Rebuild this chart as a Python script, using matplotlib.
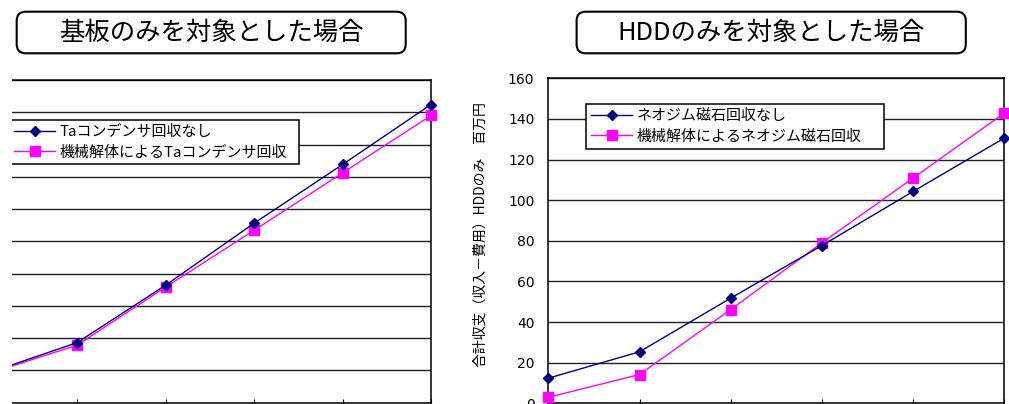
import numpy as np
import matplotlib
matplotlib.use("Agg")
import matplotlib.pyplot as plt
from matplotlib.patches import FancyBboxPatch, Rectangle

plt.rcParams['font.family'] = ['Noto Sans CJK JP', 'DejaVu Sans']

# ---- data ---------------------------------------------------------------
board_title = "基板のみを対象とした場合"
board_labels = ["Taコンデンサ回収なし", "機械解体によるTaコンデンサ回収"]
board_no_recovery = [46, 93, 182, 278, 369, 462]
board_mech_recovery = [45, 89, 179, 267, 356, 445]

hdd_title = "HDDのみを対象とした場合"
hdd_labels = ["ネオジム磁石回収なし", "機械解体によるネオジム磁石回収"]
hdd_no_recovery = [12.4, 25.4, 51.8, 77.7, 104.3, 130.6]
hdd_mech_recovery = [3.0, 14.2, 46.2, 79.0, 110.9, 142.9]
hdd_yticks = [0, 20, 40, 60, 80, 100, 120, 140, 160]
hdd_ylabel = "合計収支（収入－費用）HDDのみ　百万円"

NAVY = "#000080"
MAGENTA = "#FF00FF"

W, H = 1009, 404
fig = plt.figure(figsize=(W / 100, H / 100), dpi=100)


def px_axes(x0, y0, x1, y1):
    """Axes rectangle given in pixel coordinates measured from top-left."""
    return fig.add_axes([x0 / W, 1 - y1 / H, (x1 - x0) / W, (y1 - y0) / H])


def style_axes(ax, ylim, step):
    ax.set_xlim(0, len(board_no_recovery) - 1)
    ax.set_ylim(*ylim)
    ax.set_yticks(np.arange(ylim[0], ylim[1] + step / 2, step))
    ax.set_xticks(np.arange(len(board_no_recovery)))
    ax.set_xticklabels([])
    ax.grid(axis='y', color='#222222', linewidth=1.0)
    ax.set_axisbelow(True)
    for s in ax.spines.values():
        s.set_color('black')
        s.set_linewidth(1.1)
    ax.tick_params(axis='x', direction='inout', length=6, width=0.8, color='black')
    ax.tick_params(axis='y', length=0)


def draw_series(ax, a, b, labels):
    x = np.arange(len(a))
    ax.plot(x, a, color=NAVY, lw=1.0, marker='D', ms=5.0, mfc=NAVY, mec=NAVY,
            label=labels[0], clip_on=False, zorder=4)
    ax.plot(x, b, color=MAGENTA, lw=1.0, marker='s', ms=7.0, mfc=MAGENTA, mec=MAGENTA,
            label=labels[1], clip_on=False, zorder=3)


def add_legend(ax, x0, x1, y_top):
    leg = ax.legend(loc='upper left',
                    bbox_to_anchor=(x0 / W, 1 - y_top / H - 0.01, (x1 - x0) / W, 0.01),
                    bbox_transform=fig.transFigure, borderaxespad=0, mode='expand',
                    fontsize=10.8, frameon=True, fancybox=False, framealpha=1,
                    edgecolor='black', handlelength=2.75, handletextpad=0.3,
                    labelspacing=0.42, borderpad=0.33)
    leg.get_frame().set_linewidth(1.1)
    return leg


def title_box(x0, y0, x1, y1, text):
    box = FancyBboxPatch((x0 / 100, (H - y1) / 100), (x1 - x0) / 100, (y1 - y0) / 100,
                         boxstyle="round,pad=0,rounding_size=0.09",
                         transform=fig.dpi_scale_trans, facecolor='white',
                         edgecolor='black', linewidth=1.5)
    fig.add_artist(box)
    fig.text((x0 + x1) / 2 / W, 1 - (y0 + y1) / 2 / H, text, ha='center', va='center',
             fontsize=18.3)


# ---- left panel: circuit boards ----------------------------------------
ax1 = px_axes(-11.1, 80, 431, 402.5)
style_axes(ax1, (0, 500), 50)
ax1.set_yticklabels([])
ax1.spines['left'].set_visible(False)
draw_series(ax1, board_no_recovery, board_mech_recovery, board_labels)
add_legend(ax1, 9, 299.3, 120)

# blank margin on the far left of the canvas
fig.add_artist(Rectangle((0, 0), 12 / W, 1, transform=fig.transFigure,
                         facecolor='white', edgecolor='none', zorder=20))

# ---- right panel: HDD ----------------------------------------------------
ax2 = px_axes(548.3, 78.3, 1004.3, 403.4)
style_axes(ax2, (0, 160), 20)
ax2.set_yticks(hdd_yticks)
ax2.set_yticklabels([str(v) for v in hdd_yticks], fontsize=10, family='DejaVu Sans')
ax2.tick_params(axis='y', pad=10)
draw_series(ax2, hdd_no_recovery, hdd_mech_recovery, hdd_labels)
add_legend(ax2, 586, 884, 104.3)
fig.text(481 / W, 1 - 235 / H, hdd_ylabel, rotation=90, ha='center', va='center',
         fontsize=10)

title_box(16.7, 11.7, 405.7, 53.3, board_title)
title_box(576.6, 11.7, 965.8, 53.3, hdd_title)

fig.savefig("out.png", dpi=100)
